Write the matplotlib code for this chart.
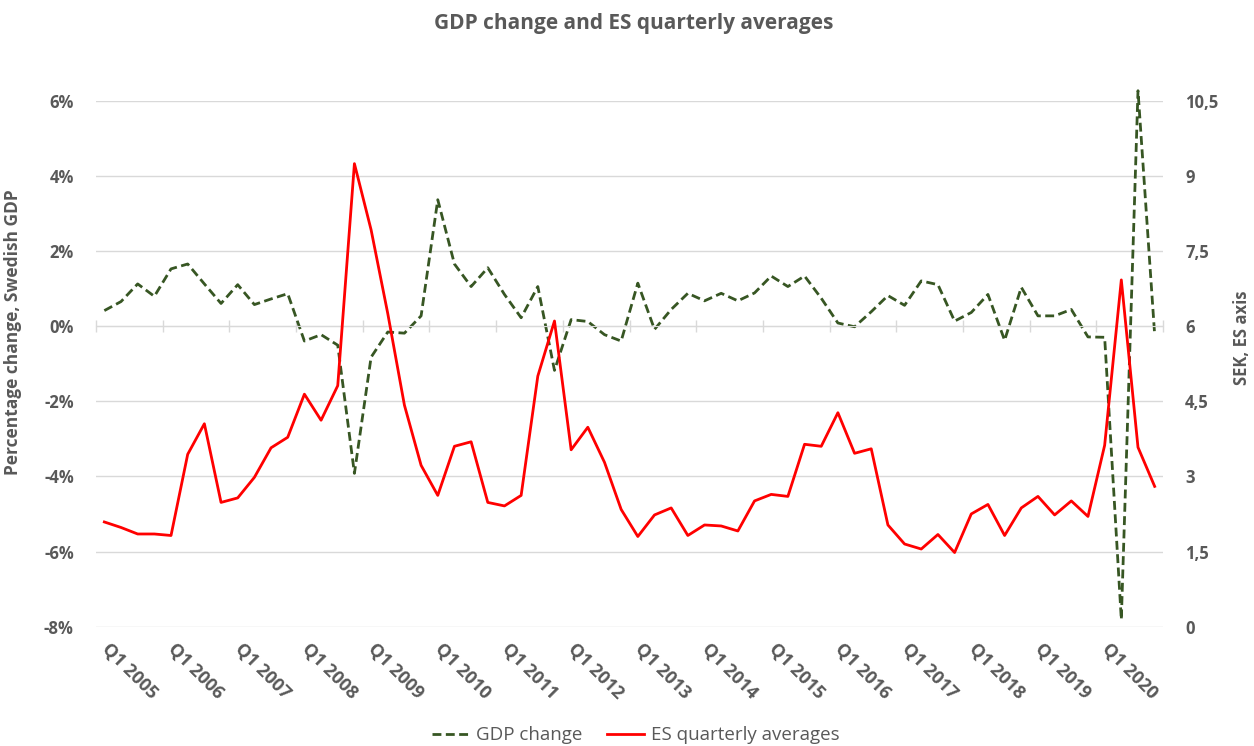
import matplotlib.pyplot as plt
from matplotlib.ticker import FuncFormatter

# quarterly data, Q1 2005 - Q4 2020
years = list(range(2005, 2021))
quarters = [f"Q{q} {y}" for y in years for q in range(1, 5)]

# GDP change, percent (left axis)
gdp_change = [0.41, 0.65, 1.12, 0.79, 1.52, 1.65, 1.12, 0.60,
              1.10, 0.57, 0.72, 0.86, -0.40, -0.23, -0.51, -3.92,
              -0.83, -0.16, -0.19, 0.27, 3.36, 1.65, 1.05, 1.55,
              0.84, 0.22, 1.05, -1.18, 0.17, 0.12, -0.23, -0.40,
              1.14, -0.09, 0.44, 0.87, 0.67, 0.87, 0.67, 0.88,
              1.33, 1.05, 1.33, 0.74, 0.08, -0.02, 0.38, 0.81,
              0.55, 1.20, 1.10, 0.13, 0.36, 0.84, -0.38, 1.03,
              0.27, 0.27, 0.44, -0.29, -0.30, -7.81, 6.26, -0.23]

# ES quarterly averages, SEK (right axis)
es_avg = [2.09, 1.98, 1.85, 1.85, 1.82, 3.44, 4.05, 2.48,
          2.57, 2.98, 3.57, 3.78, 4.64, 4.12, 4.81, 9.24,
          7.92, 6.25, 4.42, 3.22, 2.62, 3.60, 3.69, 2.48,
          2.41, 2.62, 5.00, 6.10, 3.53, 3.98, 3.28, 2.34,
          1.80, 2.23, 2.37, 1.82, 2.03, 2.01, 1.91, 2.51,
          2.64, 2.60, 3.64, 3.60, 4.27, 3.46, 3.55, 2.03,
          1.65, 1.55, 1.84, 1.48, 2.25, 2.44, 1.82, 2.37,
          2.60, 2.23, 2.51, 2.20, 3.62, 6.92, 3.58, 2.80]

left_ticks = [-8, -6, -4, -2, 0, 2, 4, 6]
right_ticks = [0, 1.5, 3, 4.5, 6, 7.5, 9, 10.5]

plt.rcParams['font.family'] = ['Open Sans', 'DejaVu Sans']
grey = "#595959"
gridc = "#d9d9d9"

fig = plt.figure(figsize=(12.54, 7.46), dpi=100)
ax = fig.add_axes([96/1254, 1 - 626.7/746, 1067/1254, 526.2/746])
x = list(range(len(quarters)))

ax.plot(x, gdp_change, color="#375623", linestyle=(0, (3.2, 1.6)), linewidth=2.0,
        label="GDP change", clip_on=False)
ax.set_xlim(-0.5, len(quarters) - 0.5)
ax.set_ylim(-8, 6)
ax.set_yticks(left_ticks)
ax.yaxis.set_major_formatter(FuncFormatter(lambda v, p: f"{v:.0f}%"))
ax.yaxis.grid(True, color=gridc, linewidth=1)
ax.set_axisbelow(True)
ax.tick_params(axis='y', length=0, pad=16, labelsize=12, labelcolor=grey)
for t in ax.get_yticklabels():
    t.set_fontweight('bold')

# category axis crosses at 0
for s in ['top', 'left', 'right']:
    ax.spines[s].set_visible(False)
ax.spines['bottom'].set_position(('data', 0))
ax.spines['bottom'].set_color(gridc)
ax.set_xticks([k - 0.5 for k in range(0, len(quarters) + 1, 4)])
ax.tick_params(axis='x', direction='inout', length=9, width=1, color=gridc,
               labelbottom=False)

# labels at the bottom
sec = ax.secondary_xaxis('bottom')
sec.set_xticks(range(0, len(quarters), 4), labels=quarters[::4])
sec.tick_params(length=0, pad=14, labelsize=13, labelcolor=grey)
sec.spines['bottom'].set_visible(False)
for t in sec.get_xticklabels():
    t.set_rotation(-45)
    t.set_ha('left')
    t.set_va('center')
    t.set_rotation_mode('anchor')
    t.set_fontweight('bold')

ax.set_ylabel("Percentage change, Swedish GDP", fontsize=12.5, fontweight='bold',
              color=grey)
ax.yaxis.set_label_coords(-0.069, 0.56)

ax2 = ax.twinx()
ax2.plot(x, es_avg, color="#ff0000", linewidth=2.0, label="ES quarterly averages")
ax2.set_ylim(0, 10.5)
ax2.set_yticks(right_ticks)
ax2.yaxis.set_major_formatter(FuncFormatter(lambda v, p: f"{v:g}".replace('.', ',')))
ax2.tick_params(axis='y', length=0, pad=16, labelsize=12, labelcolor=grey)
for t in ax2.get_yticklabels():
    t.set_fontweight('bold')
for s in ax2.spines.values():
    s.set_visible(False)
ax2.set_ylabel("SEK, ES axis", fontsize=12, fontweight='bold', color=grey,
               rotation=90)
ax2.yaxis.set_label_coords(1.066, 0.549)

fig.suptitle("GDP change and ES quarterly averages", x=0.505, y=0.969,
             fontsize=15, fontweight='bold', color=grey, va='center')

h1, l1 = ax.get_legend_handles_labels()
h2, l2 = ax2.get_legend_handles_labels()
fig.legend(h1 + h2, l1 + l2, loc='center', bbox_to_anchor=(0.507, 0.0145),
           ncol=2, frameon=False, fontsize=13.5, labelcolor=grey,
           handlelength=2.0, columnspacing=1.3, handletextpad=0.35)

fig.savefig("out.png", dpi=100)
